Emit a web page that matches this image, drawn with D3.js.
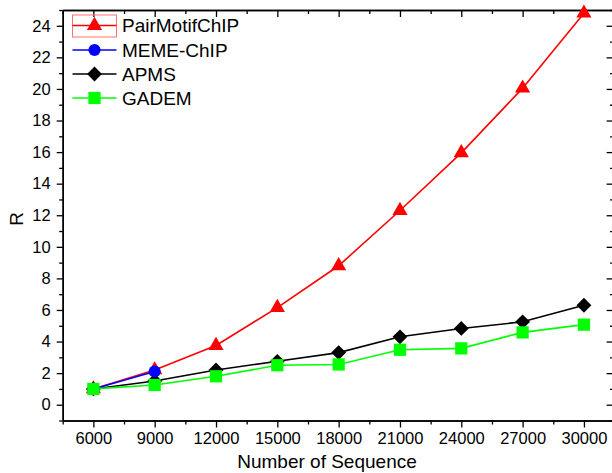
<!DOCTYPE html>
<html>
<head>
<meta charset="utf-8">
<script src="https://cdn.jsdelivr.net/npm/d3@7"></script>
<style>
  body { margin: 0; background: #fff; }
  svg { display: block; font-family: "Liberation Sans", Arial, sans-serif; }
</style>
</head>
<body>
<div id="chart-area"></div>
<script>
// data
const sequences = [6000, 9000, 12000, 15000, 18000, 21000, 24000, 27000, 30000];
const pairMotif = [1, 2.2, 3.75, 6.15, 8.8, 12.3, 15.95, 20.05, 24.8];
const memeChip = [1, 2.1];
const apms = [1, 1.5, 2.2, 2.75, 3.3, 4.3, 4.83, 5.25, 6.3];
const gadem = [1, 1.25, 1.8, 2.5, 2.55, 3.48, 3.57, 4.58, 5.07];
const xTicks = [6000, 9000, 12000, 15000, 18000, 21000, 24000, 27000, 30000];
const yTicks = [0, 2, 4, 6, 8, 10, 12, 14, 16, 18, 20, 22, 24];

const W = 612, H = 473;
const MARGIN = { LEFT: 62.7, TOP: 10, RIGHT: 614.6, BOTTOM: 420.5 };

const svg = d3.select("#chart-area").append("svg")
    .attr("width", W)
    .attr("height", H)

const x = d3.scaleLinear()
    .domain([4500, 31500])
    .range([MARGIN.LEFT, MARGIN.RIGHT])

const y = d3.scaleLinear()
    .domain([-1, 25])
    .range([MARGIN.BOTTOM, MARGIN.TOP])

const xMinor = d3.range(4500, 31501, 1500).filter(v => !xTicks.includes(v));
const yMinor = d3.range(-1, 25.01, 1).filter(v => !yTicks.includes(v));

function styleAxis(sel) {
    sel.select(".domain").attr("stroke", "#000").attr("stroke-width", 1.5);
    sel.selectAll(".tick line").attr("stroke", "#000").attr("stroke-width", 1.3);
    sel.selectAll("text").attr("fill", "#000");
}

// bottom axis (ticks outward)
svg.append("g")
    .attr("transform", `translate(0, ${MARGIN.BOTTOM})`)
    .call(d3.axisBottom(x).tickValues(xTicks).tickSizeInner(7).tickSizeOuter(0).tickPadding(5).tickFormat(d3.format("d")))
    .call(styleAxis)
    .call(g => g.selectAll("text").attr("font-size", 16.5))
svg.append("g")
    .attr("transform", `translate(0, ${MARGIN.BOTTOM})`)
    .call(d3.axisBottom(x).tickValues(xMinor).tickSizeInner(4).tickSizeOuter(0).tickFormat(""))
    .call(styleAxis)

// top axis (ticks inward)
svg.append("g")
    .attr("transform", `translate(0, ${MARGIN.TOP})`)
    .call(d3.axisTop(x).tickValues(xTicks).tickSizeInner(-7).tickSizeOuter(0).tickFormat(""))
    .call(styleAxis)
svg.append("g")
    .attr("transform", `translate(0, ${MARGIN.TOP})`)
    .call(d3.axisTop(x).tickValues(xMinor).tickSizeInner(-4).tickSizeOuter(0).tickFormat(""))
    .call(styleAxis)

// left axis (ticks outward)
svg.append("g")
    .attr("transform", `translate(${MARGIN.LEFT}, 0)`)
    .call(d3.axisLeft(y).tickValues(yTicks).tickSizeInner(6).tickSizeOuter(0).tickPadding(6))
    .call(styleAxis)
    .call(g => g.selectAll("text").attr("font-size", 16.5))
svg.append("g")
    .attr("transform", `translate(${MARGIN.LEFT}, 0)`)
    .call(d3.axisLeft(y).tickValues(yMinor).tickSizeInner(3.5).tickSizeOuter(0).tickFormat(""))
    .call(styleAxis)

// right axis (ticks inward)
svg.append("g")
    .attr("transform", `translate(${MARGIN.RIGHT}, 0)`)
    .call(d3.axisRight(y).tickValues(yTicks).tickSizeInner(-8).tickSizeOuter(0).tickFormat(""))
    .call(styleAxis)
svg.append("g")
    .attr("transform", `translate(${MARGIN.RIGHT}, 0)`)
    .call(d3.axisRight(y).tickValues(yMinor).tickSizeInner(-4.5).tickSizeOuter(0).tickFormat(""))
    .call(styleAxis)

// axis titles
svg.append("text")
    .attr("x", 327)
    .attr("y", 468)
    .attr("text-anchor", "middle")
    .attr("font-size", 19)
    .text("Number of Sequence")

svg.append("text")
    .attr("transform", "translate(23, 219) rotate(-90)")
    .attr("text-anchor", "middle")
    .attr("font-size", 19)
    .text("R")

// series
const series = [
    { name: "PairMotifChIP", values: pairMotif, color: "#ff0000", shape: d3.symbolTriangle, size: 100, rotate: 0 },
    { name: "APMS", values: apms, color: "#000000", shape: d3.symbolSquare, size: 110, rotate: 45 },
    { name: "MEME-ChIP", values: memeChip, color: "#0000ff", shape: d3.symbolCircle, size: 115, rotate: 0 },
    { name: "GADEM", values: gadem, color: "#00ff00", shape: d3.symbolSquare, size: 150, rotate: 0 }
];

const line = d3.line()
    .x(d => x(d.x))
    .y(d => y(d.y))

series.forEach(s => {
    const pts = s.values.map((v, i) => ({ x: sequences[i], y: v }));
    svg.append("path")
        .datum(pts)
        .attr("fill", "none")
        .attr("stroke", s.color)
        .attr("stroke-width", 1.6)
        .attr("d", line)
    svg.selectAll(null)
        .data(pts)
        .enter().append("path")
        .attr("d", d3.symbol().type(s.shape).size(s.size))
        .attr("transform", d => `translate(${x(d.x)}, ${y(d.y)}) rotate(${s.rotate})`)
        .attr("fill", s.color)
})

// legend
const legendOrder = ["PairMotifChIP", "MEME-ChIP", "APMS", "GADEM"];
const legendY = [25.5, 50, 74, 98];
const legend = svg.append("g")

legend.append("rect")
    .attr("x", 72.5)
    .attr("y", 15)
    .attr("width", 44)
    .attr("height", 22)
    .attr("fill", "none")
    .attr("stroke", "#ff7070")
    .attr("stroke-width", 1)

legendOrder.forEach((name, i) => {
    const s = series.find(d => d.name === name);
    const ly = legendY[i];
    legend.append("line")
        .attr("x1", 72.5)
        .attr("x2", 116.5)
        .attr("y1", ly)
        .attr("y2", ly)
        .attr("stroke", s.color)
        .attr("stroke-width", 1.6)
    legend.append("path")
        .attr("d", d3.symbol().type(s.shape).size(s.size))
        .attr("transform", `translate(94.5, ${ly}) rotate(${s.rotate})`)
        .attr("fill", s.color)
    legend.append("text")
        .attr("x", 122)
        .attr("y", ly)
        .attr("dy", "0.36em")
        .attr("font-size", 19)
        .text(name)
})
</script>
</body>
</html>
